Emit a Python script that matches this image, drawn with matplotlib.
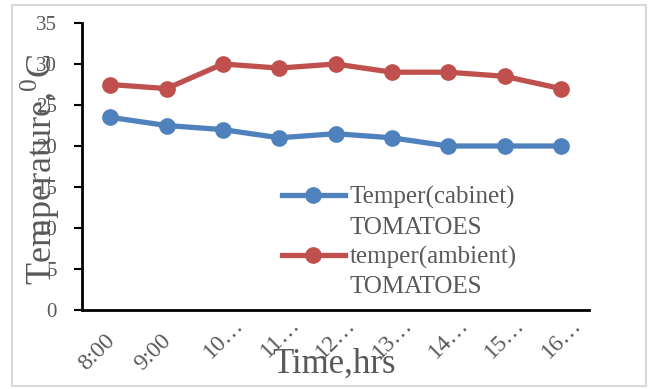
import matplotlib
matplotlib.use("Agg")
import matplotlib.pyplot as plt
from matplotlib.lines import Line2D
from matplotlib.patches import Rectangle
import matplotlib.transforms as mtransforms

categories = ["8:00", "9:00", "10\u2026", "11\u2026", "12\u2026", "13\u2026", "14\u2026", "15\u2026", "16\u2026"]
cabinet = [23.5, 22.5, 22.0, 21.0, 21.5, 21.0, 20.0, 20.0, 20.0]
ambient = [27.5, 27.0, 30.0, 29.5, 30.0, 29.0, 29.0, 28.5, 27.0]
y_ticks = [0, 5, 10, 15, 20, 25, 30, 35]
label_cabinet = "Temper(cabinet)"
label_ambient = "temper(ambient)"
label_sub = "TOMATOES"

plt.rcParams['font.family'] = ['Liberation Serif', 'DejaVu Serif']
plt.rcParams['mathtext.fontset'] = 'custom'
plt.rcParams['mathtext.rm'] = 'Liberation Serif'

GRAY = "#595959"
BLUE = "#4F81BD"
RED = "#C0504D"
XT_SIZE = 17

W, H = 652, 389
fig = plt.figure(figsize=(W / 100, H / 100), dpi=100)
fig.patches.append(Rectangle((12 / W, 3 / H), 634 / W, 381 / H, transform=fig.transFigure,
                             fill=False, edgecolor="#d9d9d9", linewidth=1.5))

ax = fig.add_axes([82 / W, 79 / H, 507 / W, 287 / H])
x = list(range(len(categories)))
l1, = ax.plot(x, cabinet, color=BLUE, linewidth=3.8, marker='o', markersize=11)
l2, = ax.plot(x, ambient, color=RED, linewidth=3.8, marker='o', markersize=11)

ax.set_xlim(-0.5, len(categories) - 0.5)
ax.set_ylim(0, 35)
ax.set_yticks(y_ticks)
ax.set_yticklabels([str(v) for v in y_ticks])
ax.set_xticks(x)

for s in ['top', 'right']:
    ax.spines[s].set_visible(False)
for s in ['left', 'bottom']:
    ax.spines[s].set_linewidth(2)
    ax.spines[s].set_color('black')

ax.tick_params(axis='y', direction='out', length=6, width=1.5, color='black',
               labelsize=15, labelcolor=GRAY, pad=12)
ax.tick_params(axis='x', length=0, labelsize=XT_SIZE, labelcolor=GRAY, pad=14.5)

ax.set_xticklabels(categories, rotation=45, ha='right', va='top', rotation_mode='anchor')
# Excel-like placement: the digits end at the category, truncation dots run past it
d = XT_SIZE * 0.95 / 2 ** 0.5 / 72
for lab in ax.get_xticklabels():
    dx, dy = -6 / 100, 0
    if lab.get_text().endswith("\u2026"):
        dx += d
        dy += d
    lab.set_transform(lab.get_transform() + mtransforms.ScaledTranslation(dx, dy, fig.dpi_scale_trans))

ax.set_ylabel("Temperature,$^{0}$C", fontsize=26, color=GRAY)
ax.yaxis.set_label_coords(-0.083, 0.49)
ax.yaxis.label.set_va('center')
ax.set_xlabel("Time,hrs", fontsize=25, color=GRAY)
ax.xaxis.set_label_coords(0.497, -0.19)
ax.xaxis.label.set_va('center')

blank = Line2D([], [], color='none')
leg = ax.legend([l1, blank, l2, blank], [label_cabinet, label_sub, label_ambient, label_sub],
                loc='upper left', bbox_to_anchor=((282 - 82) / 507, (310 - 186) / 287),
                frameon=False, fontsize=18, handlelength=2.5, handletextpad=0.2,
                labelspacing=0.28, borderpad=0, borderaxespad=0)
for t in leg.get_texts():
    t.set_color(GRAY)

fig.savefig("out.png", dpi=100)
